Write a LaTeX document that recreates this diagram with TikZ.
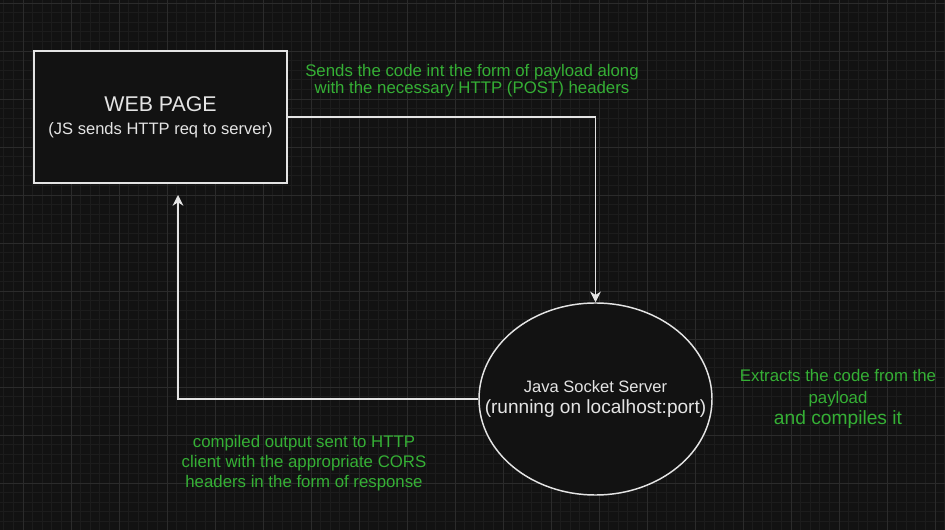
\documentclass[tikz,border=0pt]{standalone}
\usepackage{fontspec}
\setmainfont{Liberation Sans}
\usetikzlibrary{shapes.geometric, arrows.meta}

\definecolor{canvas}{HTML}{121212}
\definecolor{gridminor}{HTML}{1C1C1C}
\definecolor{gridmajor}{HTML}{2B2B2B}
\definecolor{inkwhite}{HTML}{E4E4E4}
\definecolor{notegreen}{HTML}{35B035}

\tikzset{
  pagebox/.style={draw=inkwhite, fill=canvas, line width=1.1pt, minimum width=189.75pt, minimum height=99pt, inner sep=0pt, align=center, text=inkwhite},
  serverblob/.style={ellipse, draw=inkwhite, fill=canvas, line width=1.1pt, minimum width=174.75pt, minimum height=144pt, inner sep=0pt, align=center, text=inkwhite},
  flow/.style={draw=inkwhite, line width=1.1pt, -{Stealth[length=8pt, width=8pt, inset=2.5pt]}},
  note/.style={text=notegreen, align=center, inner sep=0pt, font=\fontsize{12.6}{12.9}\selectfont}
}

\begin{document}
\begin{tikzpicture}[x=0.75pt, y=-0.75pt]
			% Canvas
			\useasboundingbox (0,0) rectangle (945,530);
			\fill[canvas] (0,0) rectangle (945,530);
			
			% Background grid
			\foreach \i in {-2,...,96} {
				\draw[gridminor, line width=0.5pt] ({23+9.6*\i},0) -- ({23+9.6*\i},530);
			}
			\foreach \j in {0,...,55} {
				\draw[gridminor, line width=0.5pt] (0,{3+9.6*\j}) -- (945,{3+9.6*\j});
			}
			\foreach \i in {0,...,19} {
				\draw[gridmajor, line width=0.6pt] ({23+48*\i},0) -- ({23+48*\i},530);
			}
			\foreach \j in {0,...,11} {
				\draw[gridmajor, line width=0.6pt] (0,{3+48*\j}) -- (945,{3+48*\j});
			}
			
			% Shapes
			\node[pagebox] (web) at (160.5,117) {{\fontsize{16}{18}\selectfont WEB PAGE}\\[5pt]{\fontsize{12.4}{14}\selectfont (JS sends HTTP req to server)}};
			\node[serverblob] (server) at (595.5,399) {\makebox[0pt]{\fontsize{12.4}{15}\selectfont Java Socket Server}\\[4pt]\makebox[0pt]{\fontsize{14.3}{16}\selectfont (running on localhost:port)}};
			
			% Connectors
			\coordinate (webin) at (178,195);
			\draw[flow] (web.east) -| (server.north);
			\draw[flow] (server.west) -| (webin);
			
			% Notes
			\node[note] (postnote) at (472,80.5) {Sends the code int the form of payload along\\with the necessary HTTP (POST) headers};
			\node[note, font=\fontsize{12.6}{16}\selectfont] (compilenote) at (838,399) {Extracts the code from the\\payload\\{\fontsize{14.4}{16}\selectfont and compiles it}};
			\node[note, font=\fontsize{12.6}{15}\selectfont] (replynote) at (304,463.5) {compiled output sent to HTTP\\client with the appropriate CORS\\headers in the form of response};
			
		\end{tikzpicture}
\end{document}
